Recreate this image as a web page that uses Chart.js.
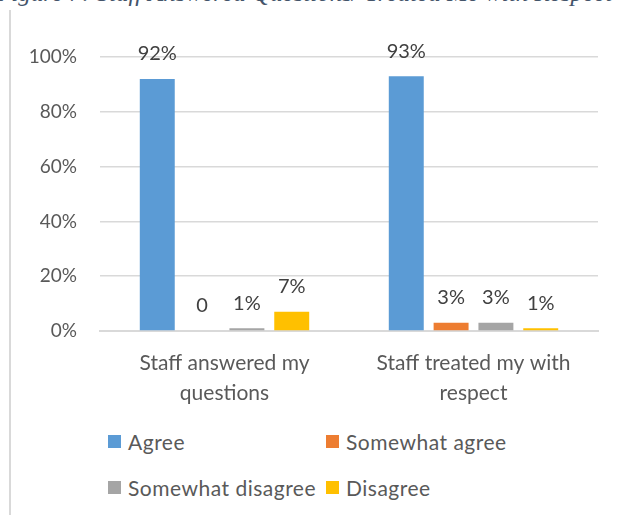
<!DOCTYPE html>
<html>
<head>
<meta charset="utf-8">
<script src="https://cdn.jsdelivr.net/npm/chart.js@4.4.1/dist/chart.umd.min.js"></script>
<style>
  html, body { margin: 0; padding: 0; background: #fff; }
  body { width: 621px; height: 515px; position: relative; overflow: hidden; font-family: Lato, sans-serif; }
  #caption { position: absolute; left: -4px; top: -20px; line-height: 25px; white-space: nowrap; font-family: "Liberation Serif", serif; font-style: italic; font-size: 25px; color: #44546a; }
  #frame { position: absolute; left: 9px; top: 10px; width: 2px; height: 505px; background: #d9d9d9; }
  #wrap { position: absolute; left: 0; top: 0; width: 621px; height: 410px; }
  #legend { position: absolute; left: 0; top: 0; }
  .item { position: absolute; display: flex; align-items: center; font-size: 21px; letter-spacing: 0.5px; color: #595959; white-space: nowrap; }
  .item span.box { width: 13px; height: 13px; margin-right: 7px; display: inline-block; }
</style>
</head>
<body>
<div id="caption">Figure 7: Staff Answered Questions/ Treated Me with Respect</div>
<div id="frame"></div>
<div id="wrap"><canvas id="chart" width="621" height="410"></canvas></div>
<div id="legend"></div>
<script>
const categories = [['Staff answered my', 'questions'], ['Staff treated my with', 'respect']];
const seriesNames = ['Agree', 'Somewhat agree', 'Somewhat disagree', 'Disagree'];
const seriesColors = ['#5b9bd5', '#ed7d31', '#a5a5a5', '#ffc000'];
const agree = [92, 93];
const somewhatAgree = [0, 3];
const somewhatDisagree = [1, 3];
const disagree = [7, 1];
const yTicks = [0, 20, 40, 60, 80, 100];

const values = [agree, somewhatAgree, somewhatDisagree, disagree];

// value labels above each bar; a zero shows as plain "0"
const barLabels = {
  id: 'barLabels',
  afterDatasetsDraw(chart) {
    const ctx = chart.ctx;
    ctx.save();
    ctx.font = '20px Lato, sans-serif';
    ctx.fillStyle = '#404040';
    ctx.textAlign = 'center';
    ctx.textBaseline = 'middle';
    chart.data.datasets.forEach((ds, i) => {
      chart.getDatasetMeta(i).data.forEach((bar, j) => {
        const v = ds.data[j];
        ctx.fillText(v === 0 ? '0' : v + '%', bar.x, bar.y - 25);
      });
    });
    ctx.restore();
  }
};

const chart = new Chart(document.getElementById('chart'), {
  type: 'bar',
  data: {
    labels: categories,
    datasets: seriesNames.map((name, i) => ({
      label: name,
      data: values[i],
      backgroundColor: seriesColors[i],
      categoryPercentage: 0.72,
      barPercentage: 0.78
    }))
  },
  options: {
    responsive: false,
    animation: false,
    layout: { padding: { left: 10, right: 23, top: 57, bottom: 0 } },
    plugins: { legend: { display: false }, tooltip: { enabled: false } },
    scales: {
      x: {
        grid: { display: false },
        border: { color: '#d9d9d9', width: 2 },
        ticks: { color: '#595959', font: { family: 'Lato', size: 21, lineHeight: 1.45 }, padding: 9, maxRotation: 0 },
        afterFit(s) { s.height = 79; }
      },
      y: {
        min: 0, max: 100,
        afterBuildTicks(s) { s.ticks = yTicks.map(v => ({ value: v })); },
        grid: { color: '#d9d9d9', lineWidth: 1.5, drawTicks: false },
        border: { display: false },
        ticks: { color: '#595959', font: { family: 'Lato', size: 19 }, padding: 23, callback: v => v + '%' },
        afterFit(s) { s.width = 90; }
      }
    }
  },
  plugins: [barLabels]
});

// legend laid out in two fixed columns under the plot
const legendPos = [[108, 441], [326, 441], [108, 487], [326, 487]];
const legend = document.getElementById('legend');
seriesNames.forEach((name, i) => {
  const el = document.createElement('div');
  el.className = 'item';
  el.style.left = legendPos[i][0] + 'px';
  el.style.top = (legendPos[i][1] - 13) + 'px';
  el.style.height = '26px';
  el.innerHTML = '<span class="box" style="background:' + seriesColors[i] + '"></span>' + name;
  legend.appendChild(el);
});
</script>
</body>
</html>
